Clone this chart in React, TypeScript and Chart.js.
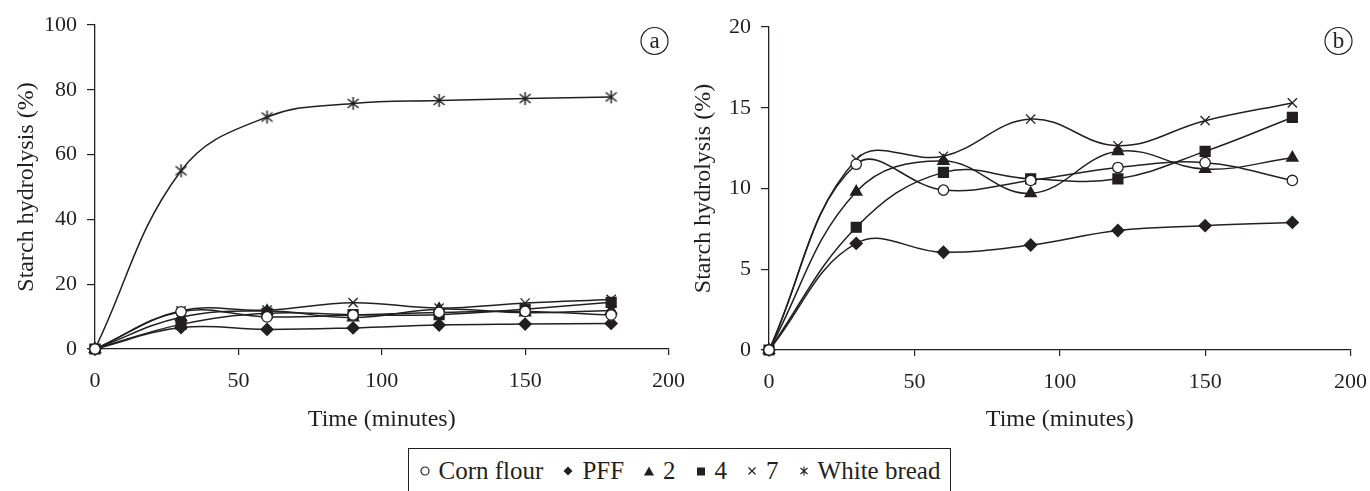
import React, { useEffect, useRef } from "react";
import { Chart, registerables } from "chart.js";

Chart.register(...registerables);

// ---- data ----
const timePoints = [0, 30, 60, 90, 120, 150, 180];
const seriesLabels = ["Corn flour", "PFF", "2", "4", "7", "White bread"];
const cornFlour = [0, 11.5, 9.9, 10.5, 11.3, 11.6, 10.5];
const pff = [0, 6.6, 6.05, 6.5, 7.4, 7.7, 7.9];
const sample2 = [0, 9.8, 11.7, 9.7, 12.3, 11.2, 11.9];
const sample4 = [0, 7.6, 11.0, 10.6, 10.6, 12.3, 14.4];
const sample7 = [0, 11.8, 12.0, 14.3, 12.65, 14.2, 15.3];
const whiteBread = [0, 55, 71.6, 75.8, 76.7, 77.3, 77.8];
const xTicks = [0, 50, 100, 150, 200];
const yTicksA = [0, 20, 40, 60, 80, 100];
const yTicksB = [0, 5, 10, 15, 20];
const panelLetters = ["a", "b"];

const FONT = '"Liberation Serif", "Times New Roman", serif';
const INK = "#231f20";

function makeAsterisk(): HTMLCanvasElement {
  const c = document.createElement("canvas");
  c.width = 15;
  c.height = 15;
  const g = c.getContext("2d")!;
  g.strokeStyle = INK;
  g.lineWidth = 1.5;
  g.beginPath();
  g.moveTo(2, 3);
  g.lineTo(13, 12);
  g.moveTo(2, 12);
  g.lineTo(13, 3);
  g.moveTo(7.5, 1);
  g.lineTo(7.5, 14);
  g.stroke();
  return c;
}

const toXY = (vals: number[]) => vals.map((v, i) => ({ x: timePoints[i], y: v }));

function makeDatasets(includeBread: boolean) {
  const base: any = {
    borderColor: INK,
    borderWidth: 1.5,
    tension: 0.4,
    pointBorderColor: INK,
    pointBorderWidth: 1.3,
    clip: false,
  };
  const ds: any[] = [
    { ...base, label: seriesLabels[0], data: toXY(cornFlour), pointStyle: "circle", pointRadius: 5.2, pointBackgroundColor: "#ffffff" },
    { ...base, label: seriesLabels[1], data: toXY(pff), pointStyle: "rectRot", pointRadius: 6, pointBackgroundColor: INK },
    { ...base, label: seriesLabels[2], data: toXY(sample2), pointStyle: "triangle", pointRadius: 6.5, pointBackgroundColor: INK },
    { ...base, label: seriesLabels[3], data: toXY(sample4), pointStyle: "rect", pointRadius: 7, pointBackgroundColor: INK },
    { ...base, label: seriesLabels[4], data: toXY(sample7), pointStyle: "crossRot", pointRadius: 6.5, pointBackgroundColor: INK },
  ];
  if (includeBread) {
    ds.push({ ...base, label: seriesLabels[5], data: toXY(whiteBread), pointStyle: makeAsterisk(), pointRadius: 7 });
  }
  return ds;
}

const circledLetter = {
  id: "circledLetter",
  afterDraw(chart: any, _args: any, opts: any) {
    const ctx = chart.ctx;
    const { right, top } = chart.chartArea;
    const cx = right + opts.dx;
    const cy = top + opts.dy;
    ctx.save();
    ctx.strokeStyle = INK;
    ctx.lineWidth = 1.2;
    ctx.beginPath();
    ctx.arc(cx, cy, 13.5, 0, Math.PI * 2);
    ctx.stroke();
    ctx.fillStyle = INK;
    ctx.font = `23px ${FONT}`;
    ctx.textAlign = "center";
    ctx.textBaseline = "middle";
    ctx.fillText(opts.text, cx, cy + 0.5);
    ctx.restore();
  },
};

function makeConfig(opts: {
  includeBread: boolean;
  yMax: number;
  yTicks: number[];
  yWidth: number;
  xHeight: number;
  top: number;
  right: number;
  yTitlePad: number;
  letter: string;
  ldx: number;
  ldy: number;
}): any {
  return {
    type: "line",
    data: { datasets: makeDatasets(opts.includeBread) },
    plugins: [circledLetter],
    options: {
      animation: false,
      responsive: false,
      maintainAspectRatio: false,
      layout: { padding: { left: 0, right: opts.right, top: opts.top, bottom: 0 } },
      plugins: {
        legend: { display: false },
        tooltip: { enabled: false },
        circledLetter: { text: opts.letter, dx: opts.ldx, dy: opts.ldy },
      },
      scales: {
        x: {
          type: "linear",
          min: 0,
          max: 200,
          afterBuildTicks: (s: any) => {
            s.ticks = xTicks.map((v) => ({ value: v }));
          },
          afterFit: (s: any) => {
            s.height = opts.xHeight;
          },
          ticks: { color: INK, font: { family: FONT, size: 22 }, padding: 13, maxRotation: 0 },
          grid: { drawOnChartArea: false, tickLength: 6, color: INK, tickColor: INK, lineWidth: 1.2 },
          border: { display: true, color: INK, width: 1.3 },
          title: {
            display: true,
            text: "Time (minutes)",
            color: INK,
            font: { family: FONT, size: 24 },
            padding: { top: 0, bottom: 6 },
          },
        },
        y: {
          type: "linear",
          min: 0,
          max: opts.yMax,
          afterBuildTicks: (s: any) => {
            s.ticks = opts.yTicks.map((v) => ({ value: v }));
          },
          afterFit: (s: any) => {
            s.width = opts.yWidth;
          },
          ticks: { color: INK, font: { family: FONT, size: 22 }, padding: 10 },
          grid: { drawOnChartArea: false, tickLength: 8, color: INK, tickColor: INK, lineWidth: 1.2 },
          border: { display: true, color: INK, width: 1.3 },
          title: {
            display: true,
            text: "Starch hydrolysis (%)",
            color: INK,
            font: { family: FONT, size: 24 },
            padding: { top: opts.yTitlePad, bottom: 0 },
          },
        },
      },
    },
  };
}

function LegendSymbol({ kind }: { kind: string }) {
  let shape: any = null;
  if (kind === "circle") shape = <circle cx={6} cy={6} r={4} fill="#fff" stroke={INK} strokeWidth={1.2} />;
  if (kind === "diamond") shape = <polygon points="6,1.5 10.5,6 6,10.5 1.5,6" fill={INK} />;
  if (kind === "triangle") shape = <polygon points="6,1.5 11,10.5 1,10.5" fill={INK} />;
  if (kind === "square") shape = <rect x={2} y={2.5} width={8} height={8} fill={INK} />;
  if (kind === "cross")
    shape = <path d="M2.5 2.5 L9.5 9.5 M2.5 9.5 L9.5 2.5" stroke={INK} strokeWidth={1.2} />;
  if (kind === "asterisk")
    shape = <path d="M2.5 3 L9.5 9 M2.5 9 L9.5 3 M6 1.5 L6 10.5" stroke={INK} strokeWidth={1.1} />;
  return (
    <svg width={12} height={12} viewBox="0 0 12 12" style={{ display: "inline-block", marginRight: 8, verticalAlign: "middle" }}>
      {shape}
    </svg>
  );
}

const legendKinds = ["circle", "diamond", "triangle", "square", "cross", "asterisk"];

export default function App() {
  const refA = useRef<HTMLCanvasElement>(null);
  const refB = useRef<HTMLCanvasElement>(null);

  useEffect(() => {
    const a = new Chart(
      refA.current!,
      makeConfig({
        includeBread: true,
        yMax: 100,
        yTicks: yTicksA,
        yWidth: 95,
        xHeight: 91,
        top: 25,
        right: 20,
        yTitlePad: 12,
        letter: panelLetters[0],
        ldx: -14,
        ldy: 16,
      })
    );
    const b = new Chart(
      refB.current!,
      makeConfig({
        includeBread: false,
        yMax: 20,
        yTicks: yTicksB,
        yWidth: 89,
        xHeight: 90,
        top: 27,
        right: 18,
        yTitlePad: 9,
        letter: panelLetters[1],
        ldx: -12,
        ldy: 14,
      })
    );
    return () => {
      a.destroy();
      b.destroy();
    };
  }, []);

  return (
    <div style={{ position: "fixed", left: 0, top: 0, width: 1370, height: 491, overflow: "hidden", background: "#fff" }}>
      <canvas ref={refA} width={698} height={440} style={{ position: "absolute", left: 0, top: 0, width: 698, height: 440 }} />
      <canvas ref={refB} width={700} height={440} style={{ position: "absolute", left: 680, top: 0, width: 700, height: 440 }} />
      <div
        style={{
          position: "absolute",
          left: 408,
          top: 448,
          width: 543,
          height: 60,
          boxSizing: "border-box",
          border: `1.3px solid ${INK}`,
          display: "flex",
          alignItems: "flex-start",
          justifyContent: "center",
          paddingTop: 8,
          fontFamily: FONT,
          fontSize: 25,
          color: INK,
          whiteSpace: "nowrap",
        }}
      >
        {seriesLabels.map((lab, i) => (
          <span key={lab} style={{ display: "inline-flex", alignItems: "center", marginLeft: i === 0 ? 0 : 19 }}>
            <LegendSymbol kind={legendKinds[i]} />
            {lab}
          </span>
        ))}
      </div>
    </div>
  );
}
